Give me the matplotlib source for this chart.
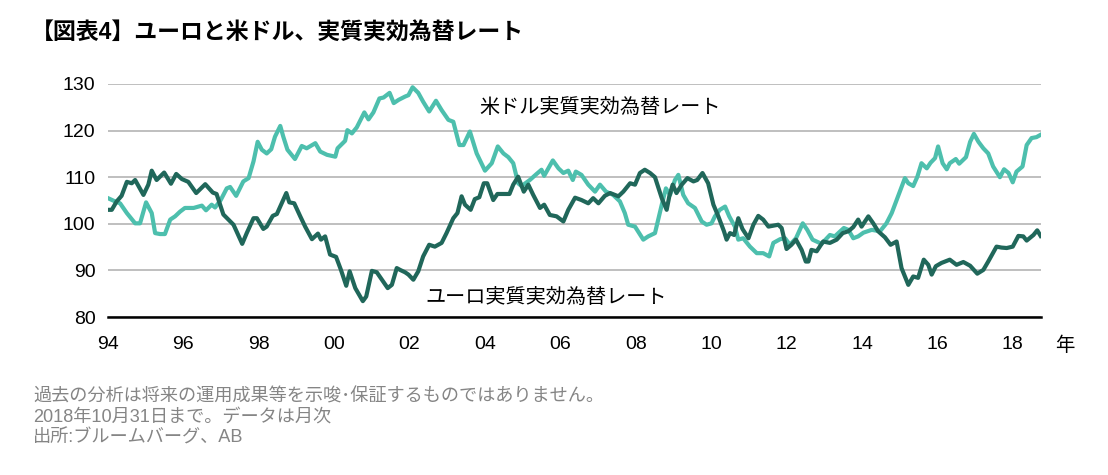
import matplotlib
matplotlib.use("Agg")
import matplotlib.pyplot as plt

plt.rcParams['font.family'] = ['Liberation Sans', 'Noto Sans CJK JP', 'DejaVu Sans']

# ユーロ実質実効為替レート (年, 値)
eur_year = [1994.00, 1994.10, 1994.23, 1994.36, 1994.50, 1994.63, 1994.72, 1994.94, 1995.07, 1995.16,
            1995.29, 1995.49, 1995.67, 1995.81, 1995.96, 1996.13, 1996.34, 1996.58, 1996.78, 1996.88,
            1997.06, 1997.33, 1997.56, 1997.68, 1997.86, 1997.95, 1998.12, 1998.21, 1998.37, 1998.48,
            1998.73, 1998.81, 1998.94, 1999.10, 1999.23, 1999.41, 1999.57, 1999.65, 1999.76, 1999.89,
            2000.05, 2000.18, 2000.32, 2000.41, 2000.56, 2000.76, 2000.85, 2001.00, 2001.13, 2001.42,
            2001.53, 2001.66, 2001.75, 2001.88, 2001.97, 2002.10, 2002.23, 2002.36, 2002.52, 2002.67,
            2002.85, 2002.98, 2003.16, 2003.27, 2003.38, 2003.47, 2003.62, 2003.73, 2003.85, 2003.97,
            2004.06, 2004.22, 2004.33, 2004.49, 2004.65, 2004.75, 2004.88, 2005.03, 2005.15, 2005.28,
            2005.46, 2005.57, 2005.72, 2005.90, 2006.08, 2006.21, 2006.39, 2006.56, 2006.74, 2006.87,
            2007.01, 2007.18, 2007.32, 2007.54, 2007.67, 2007.85, 2007.98, 2008.11, 2008.24, 2008.38,
            2008.51, 2008.69, 2008.82, 2008.89, 2008.98, 2009.08, 2009.22, 2009.37, 2009.53, 2009.63,
            2009.77, 2009.92, 2010.06, 2010.19, 2010.34, 2010.41, 2010.50, 2010.61, 2010.72, 2010.83,
            2010.99, 2011.12, 2011.25, 2011.38, 2011.52, 2011.65, 2011.78, 2011.87, 2012.00, 2012.13,
            2012.25, 2012.40, 2012.51, 2012.58, 2012.66, 2012.80, 2012.97, 2013.15, 2013.33, 2013.49,
            2013.64, 2013.77, 2013.90, 2013.99, 2014.17, 2014.30, 2014.43, 2014.61, 2014.76, 2014.92,
            2015.05, 2015.23, 2015.36, 2015.49, 2015.64, 2015.76, 2015.85, 2015.96, 2016.11, 2016.33,
            2016.51, 2016.69, 2016.87, 2017.06, 2017.22, 2017.35, 2017.57, 2017.70, 2017.84, 2018.00,
            2018.15, 2018.28, 2018.37, 2018.55, 2018.65, 2018.74]
eur_val = [103.0, 103.0, 104.8, 106.0, 109.0, 108.7, 109.4, 106.2, 108.4, 111.4,
           109.4, 111.0, 108.6, 110.7, 109.6, 109.0, 106.6, 108.5, 106.7, 106.4,
           102.0, 99.8, 95.7, 98.0, 101.2, 101.2, 98.9, 99.4, 101.7, 102.1,
           106.6, 104.6, 104.4, 101.6, 99.4, 96.7, 97.9, 96.6, 97.3, 93.4,
           92.9, 90.1, 86.7, 89.8, 86.2, 83.4, 84.4, 89.9, 89.6, 86.2,
           86.9, 90.5, 90.1, 89.6, 89.1, 88.0, 89.8, 93.0, 95.5, 95.1,
           95.9, 98.0, 101.2, 102.3, 105.9, 104.1, 103.0, 105.3, 105.7, 108.7,
           108.7, 105.1, 106.4, 106.4, 106.4, 108.4, 110.1, 106.9, 108.4, 106.2,
           103.4, 104.1, 101.9, 101.6, 100.5, 103.0, 105.6, 105.1, 104.4, 105.5,
           104.4, 106.0, 106.6, 105.9, 106.9, 108.7, 108.4, 110.9, 111.6, 110.9,
           110.0, 105.5, 103.0, 105.9, 108.4, 106.6, 108.4, 109.8, 109.1, 109.4,
           110.9, 108.7, 104.1, 101.6, 98.4, 96.6, 98.0, 97.6, 101.2, 98.9,
           96.9, 99.8, 101.7, 100.9, 99.4, 99.6, 99.8, 99.1, 94.6, 95.5,
           96.6, 94.4, 91.9, 91.9, 94.4, 94.1, 96.2, 95.9, 96.6, 98.0,
           98.4, 99.3, 100.9, 99.4, 101.6, 100.1, 98.4, 97.1, 95.5, 96.2,
           90.5, 86.9, 88.7, 88.4, 92.3, 91.2, 89.1, 90.9, 91.6, 92.3,
           91.2, 91.8, 91.0, 89.3, 90.1, 91.9, 95.1, 94.9, 94.8, 95.1,
           97.4, 97.3, 96.4, 97.6, 98.6, 97.4]

# 米ドル実質実効為替レート (年, 値)
usd_year = [1994.00, 1994.19, 1994.32, 1994.50, 1994.72, 1994.85, 1995.01, 1995.16, 1995.25, 1995.38,
            1995.51, 1995.65, 1995.78, 1995.91, 1996.04, 1996.27, 1996.49, 1996.60, 1996.75, 1996.84,
            1996.99, 1997.15, 1997.24, 1997.40, 1997.59, 1997.73, 1997.86, 1997.97, 1998.08, 1998.21,
            1998.33, 1998.43, 1998.57, 1998.65, 1998.76, 1998.96, 1999.14, 1999.27, 1999.50, 1999.63,
            1999.81, 2000.03, 2000.09, 2000.29, 2000.35, 2000.47, 2000.60, 2000.80, 2000.91, 2001.04,
            2001.20, 2001.31, 2001.47, 2001.58, 2001.71, 2001.88, 2001.97, 2002.08, 2002.23, 2002.36,
            2002.52, 2002.70, 2002.85, 2003.03, 2003.16, 2003.32, 2003.43, 2003.60, 2003.78, 2004.00,
            2004.18, 2004.34, 2004.49, 2004.62, 2004.75, 2004.88, 2004.97, 2005.19, 2005.37, 2005.50,
            2005.57, 2005.80, 2005.95, 2006.08, 2006.21, 2006.33, 2006.41, 2006.56, 2006.74, 2006.92,
            2007.05, 2007.21, 2007.40, 2007.58, 2007.71, 2007.80, 2007.98, 2008.20, 2008.33, 2008.51,
            2008.69, 2008.80, 2008.91, 2009.04, 2009.13, 2009.26, 2009.39, 2009.57, 2009.75, 2009.88,
            2010.01, 2010.10, 2010.23, 2010.37, 2010.48, 2010.63, 2010.72, 2010.85, 2011.03, 2011.21,
            2011.38, 2011.54, 2011.65, 2011.83, 2011.96, 2012.09, 2012.25, 2012.43, 2012.55, 2012.69,
            2012.93, 2013.15, 2013.28, 2013.52, 2013.64, 2013.77, 2013.90, 2014.04, 2014.26, 2014.48,
            2014.65, 2014.79, 2014.92, 2015.14, 2015.23, 2015.36, 2015.47, 2015.58, 2015.72, 2015.82,
            2015.94, 2016.02, 2016.14, 2016.25, 2016.33, 2016.49, 2016.58, 2016.76, 2016.87, 2016.97,
            2017.09, 2017.22, 2017.35, 2017.48, 2017.66, 2017.77, 2017.89, 2018.00, 2018.10, 2018.26,
            2018.37, 2018.50, 2018.63, 2018.74]
usd_val = [105.5, 104.8, 104.4, 102.3, 100.1, 100.1, 104.6, 102.3, 98.0, 97.8,
           97.8, 100.9, 101.6, 102.6, 103.4, 103.4, 103.9, 102.9, 104.1, 103.5,
           105.1, 107.6, 107.9, 106.0, 109.1, 109.8, 113.4, 117.6, 115.9, 115.1,
           116.0, 118.7, 121.0, 118.7, 115.9, 113.9, 116.7, 116.2, 117.3, 115.5,
           114.8, 114.4, 116.2, 117.8, 120.1, 119.4, 120.7, 123.9, 122.4, 123.9,
           126.9, 127.1, 128.1, 125.9, 126.6, 127.3, 127.6, 129.3, 128.1, 126.2,
           124.1, 126.4, 124.4, 122.3, 121.9, 116.9, 116.9, 119.8, 115.1, 111.4,
           113.0, 116.6, 115.1, 114.3, 113.0, 108.7, 108.1, 109.4, 110.7, 111.6,
           110.3, 113.6, 111.9, 110.9, 111.4, 109.4, 111.2, 110.5, 108.4, 106.9,
           108.4, 106.9, 106.2, 104.8, 102.3, 99.8, 99.4, 96.6, 97.3, 98.0,
           104.1, 107.6, 106.2, 109.4, 110.5, 106.2, 104.4, 103.4, 100.5, 99.8,
           100.1, 101.6, 103.0, 103.7, 101.6, 99.4, 96.6, 96.9, 95.1, 93.7,
           93.7, 93.0, 95.9, 96.7, 96.9, 95.5, 96.9, 100.1, 98.7, 96.6,
           95.7, 97.6, 97.3, 99.1, 98.7, 96.9, 97.3, 98.1, 98.7, 98.4,
           100.1, 102.3, 105.1, 109.8, 108.7, 108.1, 110.1, 113.0, 111.9, 113.1,
           114.1, 116.6, 113.0, 111.7, 113.0, 113.9, 112.9, 114.3, 117.6, 119.3,
           117.6, 116.2, 115.1, 112.3, 110.0, 111.7, 110.9, 108.9, 111.2, 112.3,
           116.9, 118.4, 118.6, 119.1]

x_ticks = [1994, 1996, 1998, 2000, 2002, 2004, 2006, 2008, 2010, 2012, 2014, 2016, 2018]
x_labels = ['94', '96', '98', '00', '02', '04', '06', '08', '10', '12', '14', '16', '18']
y_ticks = [80, 90, 100, 110, 120, 130]

dark = '#20675a'
light = '#4dbfad'

W, H = 1108, 475
fig = plt.figure(figsize=(W / 100, H / 100), dpi=100)
ax = fig.add_axes([108 / W, 1 - 317 / H, (1041 - 108) / W, (317 - 84) / H])

ax.plot(usd_year, usd_val, color=light, lw=3, solid_joinstyle='round', zorder=3)
ax.plot(eur_year, eur_val, color=dark, lw=3, solid_joinstyle='round', zorder=4)

ax.set_xlim(1994, 2018.75)
ax.set_ylim(80, 130)
ax.set_xticks(x_ticks)
ax.set_xticklabels(x_labels)
ax.set_yticks(y_ticks)
ax.tick_params(axis='both', length=0, labelsize=14, colors='black')
ax.tick_params(axis='x', pad=14)
ax.tick_params(axis='y', pad=9)
ax.grid(axis='y', color='#bfbfbf', lw=1.4)
ax.set_axisbelow(True)
for s in ['top', 'right', 'left']:
    ax.spines[s].set_visible(False)
ax.spines['bottom'].set_color('black')
ax.spines['bottom'].set_linewidth(1.8)
ax.spines['bottom'].set_zorder(5)

ax.text(2003.85, 124.9, '米ドル実質実効為替レート', fontsize=14.5, ha='left', va='center')
ax.text(2002.42, 84.3, 'ユーロ実質実効為替レート', fontsize=14.5, ha='left', va='center')

fig.text(1065 / W, 1 - 346 / H, '年', fontsize=14, ha='center', va='center')

fig.text(31 / W, 1 - 32 / H, '【図表4】ユーロと米ドル、実質実効為替レート',
         fontsize=16.5, fontweight='bold', ha='left', va='center')

notes = ['過去の分析は将来の運用成果等を示唆･保証するものではありません。',
         '2018年10月31日まで。データは月次',
         '出所:ブルームバーグ、AB']
for i, t in enumerate(notes):
    fig.text(33 / W, 1 - (397 + 20.5 * i) / H, t, fontsize=13.1, color='#858585',
             ha='left', va='center')

fig.savefig('out.png', dpi=100)
